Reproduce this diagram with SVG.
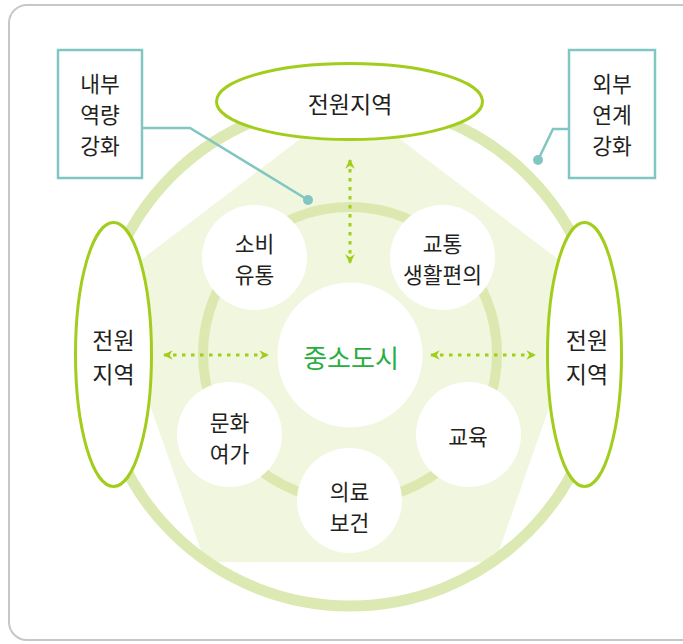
<svg xmlns="http://www.w3.org/2000/svg" width="683" height="644" viewBox="0 0 683 644">
  <defs>
    <style>
      .t { font-family: "Noto Sans CJK KR", "Noto Sans", sans-serif; font-size: 21.5px; fill: #231f20; text-anchor: middle; }
      .big { font-size: 23px; }
      .center { font-size: 26px; fill: #27ae3f; }
      .sat { fill: #ffffff; }
      .region { fill: #ffffff; stroke: #a2cd1c; stroke-width: 3; }
      .box { fill: #ffffff; stroke: #80c7c1; stroke-width: 2.5; }
      .lead { fill: none; stroke: #80c7c1; stroke-width: 2.5; }
      .dot { fill: #80c7c1; }
      .arrow { fill: none; stroke: #a2cd1c; stroke-width: 3; stroke-dasharray: 3.5 5.5; marker-start: url(#ah); marker-end: url(#ah); }
    </style>
    <marker id="ah" viewBox="0 0 10 10" refX="9" refY="5" markerWidth="3.2" markerHeight="3.2" orient="auto-start-reverse" markerUnits="strokeWidth">
      <path d="M0,0 L10,5 L0,10 L3,5 z" fill="#a2cd1c"/>
    </marker>
  </defs>

  <rect x="9" y="5" width="700" height="635" rx="18" ry="18" fill="#ffffff" stroke="#c4c8cb" stroke-width="2"/>

  <g id="background">
    <polygon points="350,101 592,285 495,562 205,562 108,285" fill="#f1f6df"/>
    <circle cx="350" cy="354" r="252" fill="none" stroke="#dde9b2" stroke-width="11"/>
    <circle cx="350" cy="354" r="147" fill="none" stroke="#dce8b0" stroke-width="10"/>
  </g>

  <g id="connectors">
    <line class="arrow" x1="350" y1="160" x2="350" y2="263"/>
    <line class="arrow" x1="164" y1="355" x2="268" y2="355"/>
    <line class="arrow" x1="431" y1="355" x2="535" y2="355"/>
    <polyline class="lead" points="142,128 190,128 308,200"/>
    <circle class="dot" cx="308" cy="200" r="5"/>
    <polyline class="lead" points="569,129 553,129 538,160"/>
    <circle class="dot" cx="538" cy="160" r="5"/>
  </g>

  <g id="node-center">
    <circle class="sat" cx="350" cy="355" r="72.5"/>
    <text class="t center" x="351" y="368">중소도시</text>
  </g>

  <g id="node-sobi">
    <circle class="sat" cx="254.5" cy="257.5" r="52.5"/>
    <text class="t" x="254.5" y="252">소비</text>
    <text class="t" x="254.5" y="283">유통</text>
  </g>

  <g id="node-gyotong">
    <circle class="sat" cx="442.5" cy="257.5" r="52.5"/>
    <text class="t" x="442.5" y="252">교통</text>
    <text class="t" x="442.5" y="283">생활편의</text>
  </g>

  <g id="node-munhwa">
    <circle class="sat" cx="229.5" cy="434.5" r="52.5"/>
    <text class="t" x="229.5" y="431">문화</text>
    <text class="t" x="229.5" y="462">여가</text>
  </g>

  <g id="node-gyoyuk">
    <circle class="sat" cx="468.5" cy="434.5" r="52.5"/>
    <text class="t" x="468" y="445">교육</text>
  </g>

  <g id="node-uiryo">
    <circle class="sat" cx="349.5" cy="500.5" r="52.5"/>
    <text class="t" x="349.5" y="500">의료</text>
    <text class="t" x="349.5" y="531">보건</text>
  </g>

  <g id="node-rural-top">
    <ellipse class="region" cx="349.5" cy="101.5" rx="133" ry="38"/>
    <text class="t big" x="350" y="113">전원지역</text>
  </g>

  <g id="node-rural-left">
    <ellipse class="region" cx="113.5" cy="354.5" rx="38" ry="132"/>
    <text class="t big" x="113.5" y="349">전원</text>
    <text class="t big" x="113.5" y="383">지역</text>
  </g>

  <g id="node-rural-right">
    <ellipse class="region" cx="584.5" cy="354.5" rx="37" ry="132"/>
    <text class="t big" x="587" y="349">전원</text>
    <text class="t big" x="587" y="383">지역</text>
  </g>

  <g id="node-internal">
    <rect class="box" x="58" y="50" width="84" height="128"/>
    <text class="t" x="100" y="92">내부</text>
    <text class="t" x="100" y="123">역량</text>
    <text class="t" x="100" y="154">강화</text>
  </g>

  <g id="node-external">
    <rect class="box" x="569" y="50" width="86" height="128"/>
    <text class="t" x="612" y="92">외부</text>
    <text class="t" x="612" y="123">연계</text>
    <text class="t" x="612" y="154">강화</text>
  </g>
</svg>
